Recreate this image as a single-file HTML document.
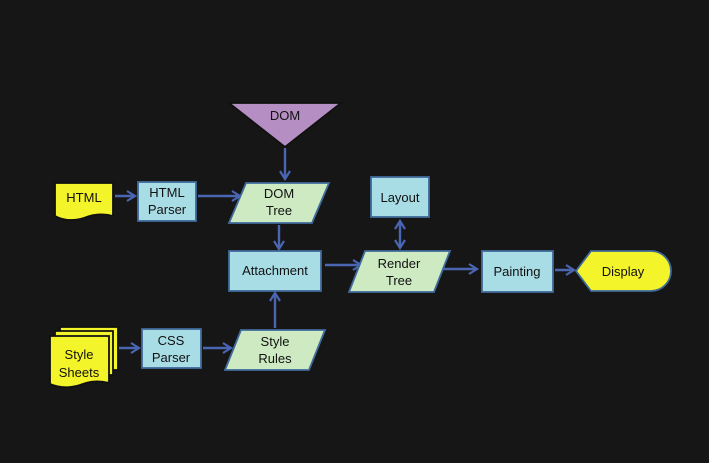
<!DOCTYPE html>
<html><head><style>
body{margin:0;background:#161616;}
svg{display:block}
text{font-family:"Liberation Sans",sans-serif;font-size:13px;fill:#111;text-anchor:middle}
</style></head><body>
<svg width="709" height="463" viewBox="0 0 709 463">
<defs>
<marker id="a" markerWidth="12" markerHeight="12" refX="9" refY="6" orient="auto" markerUnits="userSpaceOnUse">
<path d="M1,1 L9,6 L1,11" fill="none" stroke="#4a66b2" stroke-width="2.2"/>
</marker>
<marker id="b" markerWidth="12" markerHeight="12" refX="3" refY="6" orient="auto" markerUnits="userSpaceOnUse">
<path d="M11,1 L3,6 L11,11" fill="none" stroke="#4a66b2" stroke-width="2.2"/>
</marker>
</defs>
<g stroke="#4a66b2" stroke-width="2.4" fill="none">
<line x1="285" y1="148" x2="285" y2="179" marker-end="url(#a)"/>
<line x1="115" y1="196" x2="135" y2="196" marker-end="url(#a)"/>
<line x1="198" y1="196" x2="240" y2="196" marker-end="url(#a)"/>
<line x1="279" y1="225" x2="279" y2="249" marker-end="url(#a)"/>
<line x1="275" y1="328" x2="275" y2="293" marker-end="url(#a)"/>
<line x1="119" y1="348" x2="139" y2="348" marker-end="url(#a)"/>
<line x1="203" y1="348" x2="231" y2="348" marker-end="url(#a)"/>
<line x1="325" y1="265" x2="361" y2="265" marker-end="url(#a)"/>
<line x1="400" y1="221" x2="400" y2="248" marker-start="url(#b)" marker-end="url(#a)"/>
<line x1="443" y1="269" x2="477" y2="269" marker-end="url(#a)"/>
<line x1="555" y1="270" x2="574" y2="270" marker-end="url(#a)"/>
</g>
<g stroke="#3f6a9a" stroke-width="1.8">
<polygon points="229,103 341,103 285,147" fill="#b58fc3" stroke="#111"/>
<path d="M55,183 H113 V216 Q98,212 84,218 Q68,223 55,216 Z" fill="#f4f42a" stroke="#111"/>
<rect x="138" y="182" width="58" height="39" fill="#a9dde6"/>
<polygon points="246,183 329,183 312,223 229,223" fill="#cdeac2"/>
<rect x="229" y="251" width="92" height="40" fill="#a9dde6"/>
<g fill="#f4f42a" stroke="#111">
<path d="M60,327 H118 V370 H60 Z"/>
<path d="M55,331 H113 V375 H55 Z"/>
<path d="M50,336 H109 V383 Q94,379 80,385 Q64,390 50,384 Z"/>
</g>
<rect x="142" y="329" width="59" height="39" fill="#a9dde6"/>
<polygon points="241,330 325,330 309,370 225,370" fill="#cdeac2"/>
<rect x="371" y="177" width="58" height="40" fill="#a9dde6"/>
<polygon points="365,251 450,251 434,292 349,292" fill="#cdeac2"/>
<rect x="482" y="251" width="71" height="41" fill="#a9dde6"/>
<path d="M591,251 H651 A20,20 0 0 1 651,291 H591 L576,271 Z" fill="#f4f42a"/>
</g>
<text x="285" y="120">DOM</text>
<text x="84" y="202">HTML</text>
<text x="167" y="197">HTML</text><text x="167" y="214">Parser</text>
<text x="279" y="198">DOM</text><text x="279" y="215">Tree</text>
<text x="275" y="275">Attachment</text>
<text x="79" y="359">Style</text><text x="79" y="377">Sheets</text>
<text x="171" y="345">CSS</text><text x="171" y="362">Parser</text>
<text x="275" y="346">Style</text><text x="275" y="363">Rules</text>
<text x="400" y="202">Layout</text>
<text x="399" y="268">Render</text><text x="399" y="285">Tree</text>
<text x="517" y="276">Painting</text>
<text x="623" y="276">Display</text>
</svg>
</body></html>
